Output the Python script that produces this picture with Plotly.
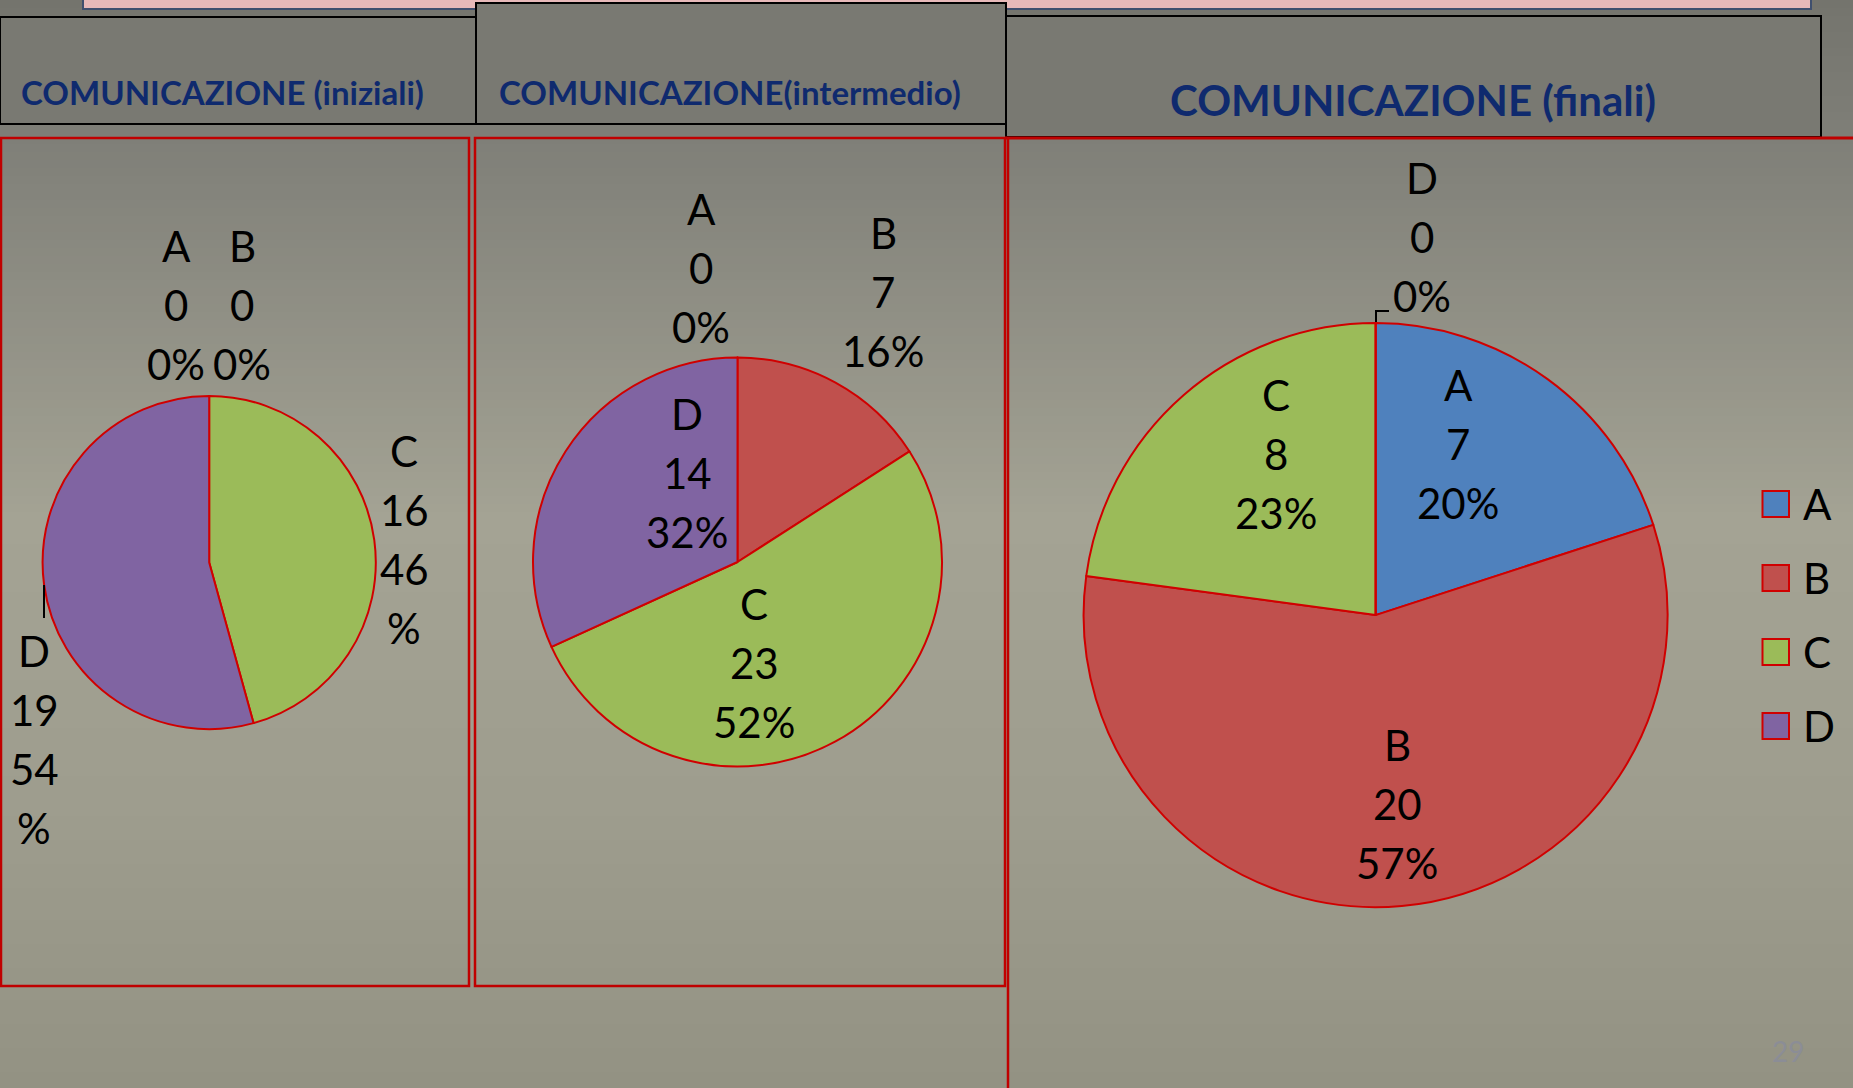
import plotly.graph_objects as go

W, H = 1853, 1088

# ---------------- data ----------------
categories = ["A", "B", "C", "D"]
iniziali = [0, 0, 16, 19]
intermedio = [0, 7, 23, 14]
finali = [7, 20, 8, 0]
titles = ["COMUNICAZIONE (iniziali)", "COMUNICAZIONE(intermedio)", "COMUNICAZIONE (finali)"]
page_number = "29"

# ---------------- style ----------------
slice_colors = ["#4f81bd", "#c0504d", "#9bbb59", "#8064a2"]
edge_red = "#d00000"
panel_red = "#c00000"
title_color = "#0f2a6e"
FONT = "Lato, 'Open Sans', sans-serif"
LABEL_SIZE = 42
LINE_STEP = 59


def X(px):
    return px / W


def Y(py):
    return 1 - py / H


def pie_domain(cx, cy, r):
    return dict(x=[X(cx - r), X(cx + r)], y=[Y(cy + r), Y(cy - r)])


fig = go.Figure()

pies = [
    (iniziali, (209.2, 562.5, 166.6)),
    (intermedio, (737.5, 562.0, 204.5)),
    (finali, (1375.6, 615.1, 292.0)),
]
for vals, (cx, cy, r) in pies:
    fig.add_trace(go.Pie(
        labels=categories, values=vals, sort=False, direction="clockwise",
        rotation=0, textinfo="none", hoverinfo="label+value+percent",
        marker=dict(colors=slice_colors, line=dict(color=edge_red, width=2)),
        domain=pie_domain(cx, cy, r), showlegend=False,
    ))

shapes = []
annotations = []

# ---- background gradient (bands) ----
stops = [(0, (0x74, 0x74, 0x6d)), (140, (0x7f, 0x7f, 0x78)), (520, (0xa4, 0xa3, 0x94)),
         (800, (0x9e, 0x9d, 0x8e)), (1088, (0x93, 0x92, 0x83))]


def col_at(y):
    for (y0, c0), (y1, c1) in zip(stops[:-1], stops[1:]):
        if y0 <= y <= y1:
            t = (y - y0) / (y1 - y0)
            c = [round(a + (b - a) * t) for a, b in zip(c0, c1)]
            return "rgb(%d,%d,%d)" % tuple(c)
    return "rgb(%d,%d,%d)" % stops[-1][1]


band = 8
for y in range(0, H, band):
    shapes.append(dict(type="rect", xref="paper", yref="paper", layer="below",
                       x0=0, x1=1, y0=Y(y + band + 1), y1=Y(y),
                       fillcolor=col_at(y + band / 2), line=dict(width=0)))

# ---- top pink bar ----
shapes.append(dict(type="rect", xref="paper", yref="paper", layer="below",
                   x0=X(83), x1=X(1811), y0=Y(9), y1=Y(-5),
                   fillcolor="#e7b9b9", line=dict(color="#3f4f6e", width=2)))

# ---- header boxes ----
headers = [(0, 476, 17, 124), (476, 1006, 3, 124), (1006, 1821, 16, 137)]
for x0, x1, y0, y1 in headers:
    shapes.append(dict(type="rect", xref="paper", yref="paper", layer="below",
                       x0=X(x0), x1=X(x1), y0=Y(y1), y1=Y(y0),
                       fillcolor="#797972", line=dict(color="black", width=2)))

# ---- red panels ----
for x0, x1 in [(1, 469), (475, 1005)]:
    shapes.append(dict(type="rect", xref="paper", yref="paper", layer="below",
                       x0=X(x0), x1=X(x1), y0=Y(986), y1=Y(138),
                       line=dict(color=panel_red, width=2.5)))
shapes.append(dict(type="line", xref="paper", yref="paper", layer="below",
                   x0=X(1005), x1=X(W), y0=Y(138), y1=Y(138),
                   line=dict(color=panel_red, width=3)))
shapes.append(dict(type="line", xref="paper", yref="paper", layer="below",
                   x0=X(1008), x1=X(1008), y0=Y(138), y1=Y(H + 2),
                   line=dict(color=panel_red, width=2.5)))

# ---- titles ----
title_pos = [(222.5, 92, 33), (730, 92, 33), (1413, 100, 42)]
for t, (x, y, s) in zip(titles, title_pos):
    annotations.append(dict(text="<b>%s</b>" % t, x=X(x), y=Y(y), xref="paper", yref="paper",
                            showarrow=False, xanchor="center", yanchor="middle",
                            font=dict(family=FONT, size=s, color=title_color)))

# ---- data labels ----
# (x centre, y of first line, wrap percent sign)
label_pos = [
    {"A": (176, 246, False), "B": (242, 246, False), "C": (404, 451, True), "D": (34, 651, True)},
    {"A": (701, 209, False), "B": (883, 233, False), "C": (754, 604, False), "D": (687, 414, False)},
    {"A": (1458, 385, False), "B": (1397, 745, False), "C": (1276, 395, False), "D": (1422, 178, False)},
]
for (vals, _), pos in zip(pies, label_pos):
    tot = sum(vals)
    for cat, v in zip(categories, vals):
        pct = round(v / tot * 100)
        x, y0, wrap = pos[cat]
        lines = [cat, str(v)] + ([str(pct), "%"] if wrap else ["%d%%" % pct])
        for i, ln in enumerate(lines):
            annotations.append(dict(text=ln, x=X(x), y=Y(y0 + i * LINE_STEP), xref="paper", yref="paper",
                                    showarrow=False, xanchor="center", yanchor="middle",
                                    font=dict(family=FONT, size=LABEL_SIZE, color="black")))

# ---- leader lines ----
shapes.append(dict(type="line", xref="paper", yref="paper", x0=X(44), x1=X(44), y0=Y(585), y1=Y(618),
                   line=dict(color="black", width=2)))
shapes.append(dict(type="path", xref="paper", yref="paper",
                   path="M %f %f L %f %f L %f %f" % (X(1376), Y(322), X(1376), Y(311), X(1389), Y(311)),
                   line=dict(color="black", width=2)))

# ---- legend (drawn) ----
leg_y = [504, 578, 652, 726]
for cat, c, y in zip(categories, slice_colors, leg_y):
    shapes.append(dict(type="rect", xref="paper", yref="paper",
                       x0=X(1762.5), x1=X(1789), y0=Y(y + 13), y1=Y(y - 13),
                       fillcolor=c, line=dict(color=edge_red, width=2)))
    annotations.append(dict(text=cat, x=X(1801), y=Y(y), xref="paper", yref="paper",
                            showarrow=False, xanchor="left", yanchor="middle",
                            font=dict(family=FONT, size=LABEL_SIZE, color="black")))

# ---- page number ----
annotations.append(dict(text=page_number, x=X(1788), y=Y(1051), xref="paper", yref="paper",
                        showarrow=False, xanchor="center", yanchor="middle",
                        font=dict(family=FONT, size=28, color="#8b8d96")))

fig.update_layout(
    width=W, height=H, margin=dict(l=0, r=0, t=0, b=0),
    paper_bgcolor="#9a998a", plot_bgcolor="rgba(0,0,0,0)",
    shapes=shapes, annotations=annotations, showlegend=False,
)

fig.write_html("out.html", config={"displayModeBar": False},
               post_script="document.body.style.margin='0';document.body.style.overflow='hidden';")
